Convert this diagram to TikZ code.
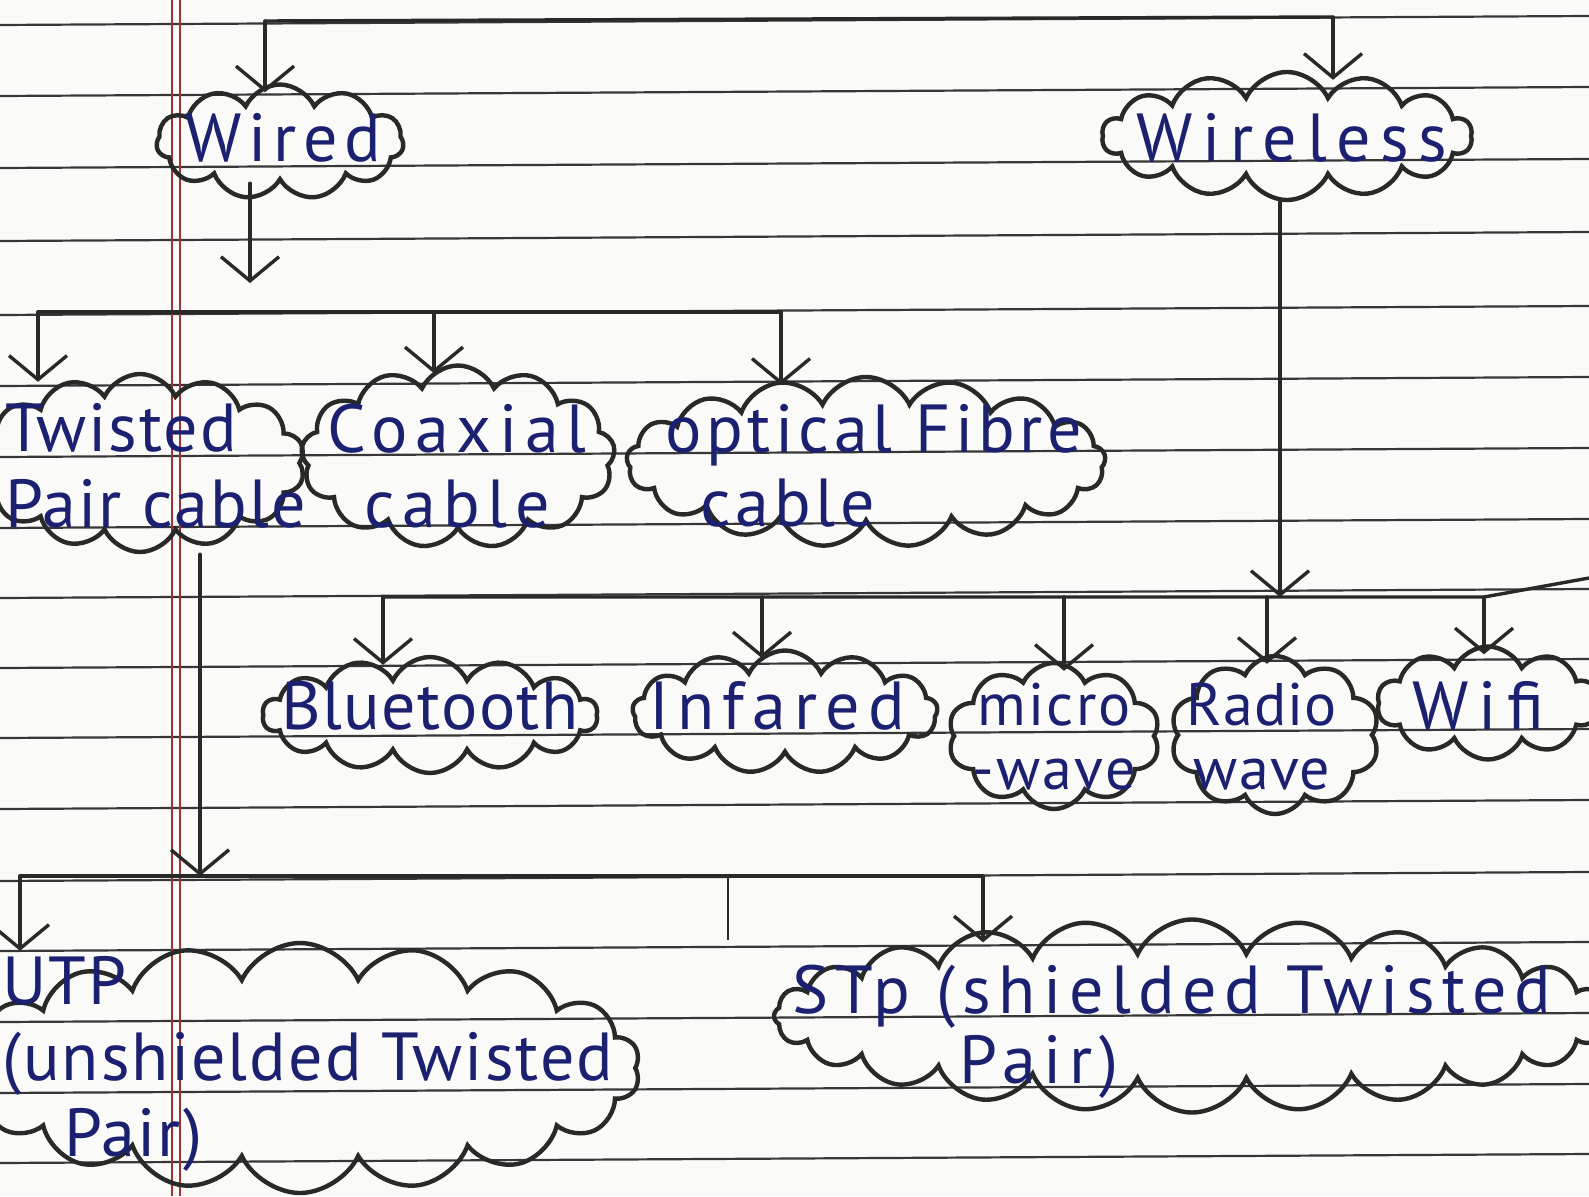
\documentclass[tikz,border=0pt]{standalone}
\usepackage{fontspec}
\setmainfont{PT Sans}
\usetikzlibrary{shapes.symbols,arrows.meta}
\definecolor{ink}{RGB}{28,32,112}
\definecolor{pencil}{RGB}{40,42,40}
\definecolor{ruling}{RGB}{55,55,55}
\definecolor{margin}{RGB}{160,50,50}
\definecolor{paper}{RGB}{250,250,249}
\tikzset{
  puff/.style={cloud, draw=pencil, line width=4.4pt, inner sep=0pt, cloud puff arc=130, cloud ignores aspect},
  hand/.style n args={3}{text=ink, inner sep=0pt, font=\fontsize{#1}{#3}\selectfont\addfontfeature{LetterSpace=#2}},
  link/.style={draw=pencil, line width=3.4pt, line cap=round, line join=round},
  linkto/.style={link, -{Straight Barb[length=24pt,width=58pt]}},
  dropto/.style={linkto, shorten >=-10pt},
}
\begin{document}
\begin{tikzpicture}[x=1pt,y=1pt,yscale=-1]
\useasboundingbox (0,0) rectangle (1589,1196);
\fill[paper] (0,0) rectangle (1589,1196);
\clip (0,0) rectangle (1589,1196);
\foreach \y in {20,91,163,236,310,381,452,523,593,663,733,804,876,946,1017,1088,1158}
  \draw[ruling, line width=2.2pt] (0,\y+5) -- (1589,\y-4);
\draw[margin, line width=1.2pt] (172,0) -- (172,1196);
\draw[margin, line width=1.2pt] (180,0) -- (180,1196);

\node[puff, cloud puffs=11, minimum width=247pt, minimum height=115pt] (wired) at (280,142) {};
\node[puff, cloud puffs=14, minimum width=370pt, minimum height=128pt] (wireless) at (1287,136) {};
\node[puff, cloud puffs=14, minimum width=330pt, minimum height=178pt] (twisted) at (140,463) {};
\node[puff, cloud puffs=13, minimum width=314pt, minimum height=183pt] (coaxial) at (458,457) {};
\node[puff, cloud puffs=17, minimum width=479pt, minimum height=170pt] (optical) at (866,462) {};
\node[puff, cloud puffs=14, minimum width=335pt, minimum height=116pt] (bluetooth) at (430,715) {};
\node[puff, cloud puffs=13, minimum width=305pt, minimum height=123pt] (infared) at (785,712) {};
\node[puff, cloud puffs=10, minimum width=212pt, minimum height=146pt] (micro) at (1054,736) {};
\node[puff, cloud puffs=10, minimum width=209pt, minimum height=158pt] (radio) at (1275,735) {};
\node[puff, cloud puffs=10, minimum width=222pt, minimum height=113pt] (wifi) at (1488,703) {};
\node[puff, cloud puffs=18, minimum width=680pt, minimum height=250pt] (utp) at (300,1068) {};
\node[puff, cloud puffs=24, minimum width=836pt, minimum height=193pt] (stp) at (1192,1016) {};

\node[hand={68}{10}{76}] (wiredL) at (283,138) {Wired};
\node[hand={68}{14}{76}] (wirelessL) at (1292,138) {Wireless};
\node[hand={68}{3}{76}, anchor=west, align=left] (twistedL) at (5,466) {Twisted\\Pair cable};
\node[hand={68}{11}{75}, align=center] (coaxialL) at (457,466) {Coaxial\\cable};
\node[hand={68}{7}{74}, anchor=west, align=left] (opticalL) at (665,466) {optical Fibre\\\hspace*{35pt}cable};
\node[hand={68}{2}{76}] (bluetoothL) at (430,706) {Bluetooth};
\node[hand={68}{12}{76}] (infaredL) at (777,706) {Infared};
\node[hand={60}{4}{64}, align=center] (microL) at (1054,737) {micro\\-wave};
\node[hand={60}{2}{64}, align=center] (radioL) at (1262,737) {Radio\\wave};
\node[hand={68}{15}{76}] (wifiL) at (1478,706) {Wifi};
\node[hand={68}{3}{76}, anchor=west, align=left] (utpL) at (2,1064) {UTP\\(unshielded Twisted\\\hspace*{62pt}Pair)};
\node[hand={68}{11}{70}, anchor=west, align=left] (stpL) at (792,1032) {STp (shielded Twisted\\\hspace*{167pt}Pair)};

\coordinate (top1) at (265,21);
\coordinate (top2) at (1333,17);
\draw[link] (top1) -- (top2);
\draw[dropto] (top1) -- (top1 |- wired.north);
\draw[dropto] (top2) -- (top2 |- wireless.north);

\coordinate (wdown) at (250,283);
\draw[linkto] (wired.south -| wdown) -- (wdown);

\coordinate (b2a) at (38,312);
\coordinate (b2b) at (434,312);
\coordinate (b2c) at (781,312);
\draw[link] (b2a) -- (b2c);
\draw[dropto] (b2a) -- (b2a |- twisted.north);
\draw[dropto] (b2b) -- (b2b |- coaxial.north);
\draw[dropto] (b2c) -- (b2c |- optical.north);

\coordinate (b3w) at (1280,597);
\coordinate (b3a) at (383,597);
\coordinate (b3b) at (762,597);
\coordinate (b3c) at (1064,597);
\coordinate (b3d) at (1267,597);
\coordinate (b3e) at (1484,597);
\coordinate (b3f) at (1589,578);
\draw[linkto] (wireless.south -| b3w) -- (b3w);
\draw[link] (b3a) -- (b3e) -- (b3f);
\draw[dropto] (b3a) -- (b3a |- bluetooth.north);
\draw[dropto] (b3b) -- (b3b |- infared.north);
\draw[dropto] (b3c) -- (b3c |- micro.north);
\draw[dropto] (b3d) -- (b3d |- radio.north);
\draw[dropto] (b3e) -- (b3e |- wifi.north);

\coordinate (b4t) at (200,876);
\coordinate (b4a) at (20,876);
\coordinate (b4b) at (983,876);
\coordinate (tick) at (728,876);
\draw[linkto] (twisted.south -| b4t) -- (b4t);
\draw[link] (b4a) -- (b4b);
\draw[dropto] (b4a) -- (b4a |- utp.north);
\draw[dropto, shorten >=-25pt] (b4b) -- (b4b |- stp.north);
\draw[pencil, line width=1.4pt] (tick) -- ++(0,64);
\end{tikzpicture}
\end{document}
